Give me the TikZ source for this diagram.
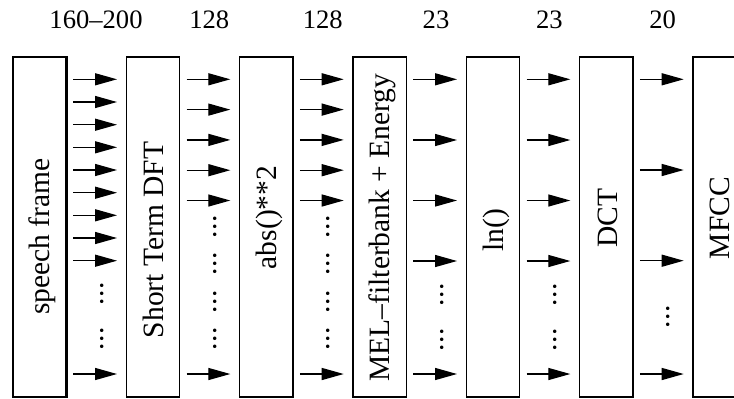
\documentclass[tikz,border=0pt]{standalone}
\usepackage{fontspec}
\setmainfont{Liberation Serif}
\usetikzlibrary{arrows.meta}
\begin{document}
\begin{tikzpicture}[x=0.5pt,y=-0.5pt,
  stage/.style={draw, line width=0.65pt, outer sep=0pt, inner sep=0pt,
    minimum width=26.67pt, minimum height=170pt},
  endstage/.style={stage, line width=1.25pt},
  flow/.style={-{Triangle[length=11pt,width=6pt]}, line width=0.65pt,
    shorten <=3.45pt, shorten >=4.65pt},
  caption/.style={rotate=90, anchor=base, inner sep=0pt,
    font=\fontsize{14.75}{16}\selectfont},
  count/.style={anchor=base, inner sep=0pt, font=\fontsize{13.3}{15}\selectfont},
  gapdots/.style={rotate=90, inner sep=0pt, font=\fontsize{14.75}{16}\selectfont}]
\useasboundingbox (0,0) rectangle (734,398);
\clip (0,0) rectangle (734,398);

% processing stages
\node[endstage] (b0) at (39.7,227) {};
\node[stage]    (b1) at (153,227) {};
\node[stage]    (b2) at (266.3,227) {};
\node[stage]    (b3) at (379.7,227) {};
\node[stage]    (b4) at (493,227) {};
\node[stage]    (b5) at (606.3,227) {};
\node[endstage] (b6) at (719.7,227) {};

% stage captions (vertical)
\node[caption] (t0) at (49.7,236.7) {speech frame};
\node[caption] (t1) at (163,240) {Short Term DFT};
\node[caption] (t2) at (276.3,217.5) {abs()**2};
\node[caption] (t3) at (389.7,227.5) {MEL\textendash filterbank + Energy};
\node[caption] (t4) at (503,230) {ln()};
\node[caption] (t5) at (617,218) {DCT};
\node[caption] (t6) at (729,218) {MFCC};

% vector sizes between stages
\node[count] (l0) at (96,28)    {160\textendash 200};
\node[count] (l1) at (209.3,28) {128};
\node[count] (l2) at (322.7,28) {128};
\node[count] (l3) at (436,28)   {23};
\node[count] (l4) at (549.3,28) {23};
\node[count] (l5) at (662.7,28) {20};

% data flow arrows
\foreach \y in {79.3,102,124.7,147.3,170,192.7,215.3,238,260.7,374}
  \draw[flow] (b0.east |- 0,\y) -- (b1.west |- 0,\y);
\foreach \y in {79.3,109.6,139.9,170.2,200.5,374} {
  \draw[flow] (b1.east |- 0,\y) -- (b2.west |- 0,\y);
  \draw[flow] (b2.east |- 0,\y) -- (b3.west |- 0,\y);
}
\foreach \y in {79.3,140,200.5,261,374} {
  \draw[flow] (b3.east |- 0,\y) -- (b4.west |- 0,\y);
  \draw[flow] (b4.east |- 0,\y) -- (b5.west |- 0,\y);
}
\foreach \y in {79.3,170,260.7,374}
  \draw[flow] (b5.east |- 0,\y) -- (b6.west |- 0,\y);

% elided channels
\def\vdotsgap{.\kern0.45pt.\kern0.45pt.}
\foreach \y [count=\k] in {294,339}
  \node[gapdots] (d0-\k) at (101.7,\y) {\vdotsgap};
\foreach \y [count=\k] in {227,264,301.7,339} {
  \node[gapdots] (d1-\k) at (215,\y) {\vdotsgap};
  \node[gapdots] (d2-\k) at (328.3,\y) {\vdotsgap};
}
\foreach \y [count=\k] in {295,340} {
  \node[gapdots] (d3-\k) at (441.7,\y) {\vdotsgap};
  \node[gapdots] (d4-\k) at (555,\y) {\vdotsgap};
}
\node[gapdots] (d5-1) at (668.3,316.7) {\vdotsgap};
\end{tikzpicture}
\end{document}
